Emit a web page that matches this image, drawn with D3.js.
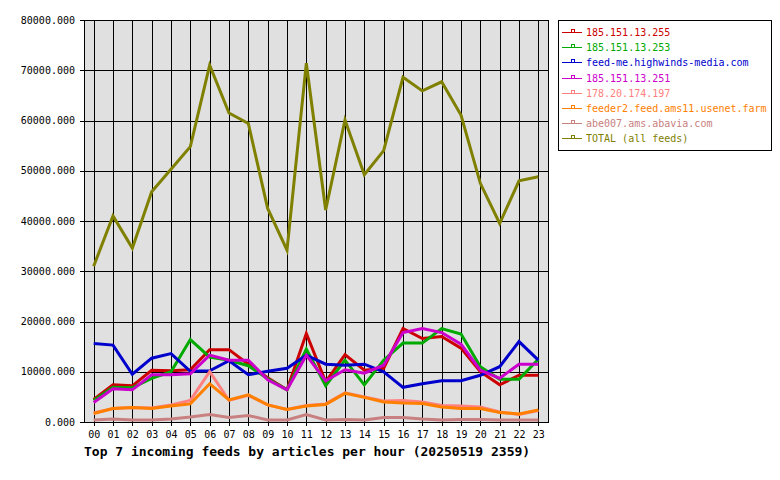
<!DOCTYPE html>
<html>
<head>
<meta charset="utf-8">
<script src="https://cdn.jsdelivr.net/npm/d3@7"></script>
<style>
body { margin: 0; background: #fff; }
text { font-family: "DejaVu Sans Mono", monospace; }
</style>
</head>
<body>
<div id="chart"></div>
<script>
var hours = ["00","01","02","03","04","05","06","07","08","09","10","11",
	"12","13","14","15","16","17","18","19","20","21","22","23"];

var feedNames = ["185.151.13.255", "185.151.13.253", "feed-me.highwinds-media.com",
	"185.151.13.251", "178.20.174.197", "feeder2.feed.ams11.usenet.farm",
	"abe007.ams.abavia.com", "TOTAL (all feeds)"];

var feedColors = ["#cc0000", "#00aa00", "#0000cc", "#cc00cc", "#ff8080", "#ff8000", "#c88080", "#808000"];

var feed255 = [4500, 7400, 7200, 10300, 10200, 10400, 14400, 14400, 11500, 8800, 6400, 17600,
	8000, 13400, 10300, 10700, 18600, 16600, 17000, 14700, 10000, 7400, 9300, 9300];
var feed253 = [4300, 6900, 6800, 8700, 10000, 16400, 12900, 12300, 11200, 8600, 6400, 14500,
	7200, 12300, 7400, 12300, 15700, 15700, 18600, 17500, 11000, 8500, 8500, 12500];
var feedHighwinds = [15600, 15300, 9500, 12700, 13600, 10100, 10200, 12200, 9400, 10100, 10700, 13300,
	11500, 11300, 11500, 10000, 6900, 7600, 8200, 8200, 9300, 11000, 16000, 12300];
var feed251 = [3900, 6600, 6400, 9400, 9400, 9600, 13300, 12300, 12300, 8400, 6400, 13300,
	8200, 10400, 9700, 11300, 17800, 18600, 17800, 15500, 10300, 8700, 11500, 11500];
var feed178 = [1800, 2700, 2900, 2800, 3400, 4300, 10000, 4300, 5300, 3400, 2500, 3300,
	3600, 5800, 5000, 4200, 4300, 4000, 3300, 3200, 3000, 2000, 1500, 2300];
var feedUsenetFarm = [1700, 2700, 2900, 2700, 3200, 3600, 7600, 4400, 5400, 3400, 2500, 3200,
	3500, 5700, 4900, 4000, 3800, 3700, 3000, 2700, 2700, 1900, 1600, 2400];
var feedAbavia = [400, 600, 400, 400, 600, 1000, 1500, 900, 1300, 400, 400, 1500,
	400, 500, 400, 900, 900, 600, 400, 500, 500, 400, 400, 400];
var feedTotal = [31000, 41000, 34600, 45800, 50300, 54800, 71000, 61500, 59400, 42500, 34200, 71400,
	42200, 60100, 49200, 54000, 68600, 65900, 67700, 61100, 47500, 39500, 48000, 48800];

var yTicks = [0, 10000, 20000, 30000, 40000, 50000, 60000, 70000, 80000];

var titleText = "Top 7 incoming feeds by articles per hour (20250519 2359)";

var series = [feed255, feed253, feedHighwinds, feed251, feed178, feedUsenetFarm, feedAbavia, feedTotal];

var svgWidth = 780, svgHeight = 480;
var margin = {top: 20, right: 232, bottom: 58, left: 84},
	width = svgWidth - margin.left - margin.right,
	height = svgHeight - margin.top - margin.bottom;

var svg = d3.select("#chart")
	.append("svg")
		.attr("width", svgWidth)
		.attr("height", svgHeight)
	.append("g")
		.attr("transform", `translate(${margin.left},${margin.top})`);

var x = d3.scalePoint()
	.domain(hours)
	.range([0, width])
	.padding(0.5);

var y = d3.scaleLinear()
	.domain([0, 80000])
	.range([height, 0]);

// plot background
svg.append("rect")
	.attr("x", 0.5).attr("y", 0.5)
	.attr("width", width).attr("height", height)
	.attr("fill", "#e0e0e0");

// grid
svg.append("g")
	.selectAll("line")
	.data(hours)
	.join("line")
		.attr("x1", d => Math.round(x(d)) + 0.5)
		.attr("x2", d => Math.round(x(d)) + 0.5)
		.attr("y1", 0).attr("y2", height)
		.attr("stroke", "#000")
		.attr("shape-rendering", "crispEdges");
svg.append("g")
	.selectAll("line")
	.data(yTicks)
	.join("line")
		.attr("x1", 0).attr("x2", width)
		.attr("y1", d => Math.round(y(d)) + 0.5)
		.attr("y2", d => Math.round(y(d)) + 0.5)
		.attr("stroke", "#000")
		.attr("shape-rendering", "crispEdges");

// axes
var yAxis = svg.append("g")
	.call(d3.axisLeft(y).tickValues(yTicks).tickSize(4).tickPadding(5)
		.tickFormat(d => d3.format(".3f")(d)));
var xAxis = svg.append("g")
	.attr("transform", `translate(0,${height})`)
	.call(d3.axisBottom(x).tickSize(4).tickPadding(5));
[yAxis, xAxis].forEach(a => {
	a.select(".domain").remove();
	a.selectAll("line").attr("stroke", "#000").attr("shape-rendering", "crispEdges");
	a.selectAll("text").attr("fill", "#000").style("font-size", "10px")
		.style("font-family", "'DejaVu Sans Mono', monospace");
});

// border
svg.append("rect")
	.attr("x", 0.5).attr("y", 0.5)
	.attr("width", width).attr("height", height)
	.attr("fill", "none")
	.attr("stroke", "#000")
	.attr("shape-rendering", "crispEdges");

// the lines
series.forEach((vals, i) => {
	svg.append("path")
		.datum(vals)
		.attr("fill", "none")
		.attr("stroke", feedColors[i])
		.attr("stroke-width", 3)
		.attr("d", d3.line()
			.x((d, j) => x(hours[j]))
			.y(d => y(d))
		);
});

// title
svg.append("text")
	.attr("x", 0)
	.attr("y", height + 34)
	.style("font-size", "13px")
	.style("font-weight", "bold")
	.attr("fill", "#000")
	.text(titleText);

// legend
var legend = d3.select("#chart svg").append("g")
	.attr("transform", "translate(558,20)");
legend.append("rect")
	.attr("x", 0.5).attr("y", 0.5)
	.attr("width", 213).attr("height", 130)
	.attr("fill", "#fff")
	.attr("stroke", "#000")
	.attr("shape-rendering", "crispEdges");
feedNames.forEach((name, i) => {
	var ly = 12 + i * 15.2;
	var row = legend.append("g").attr("transform", `translate(0,${Math.round(ly)})`);
	row.append("line")
		.attr("x1", 4).attr("x2", 24)
		.attr("y1", 0.5).attr("y2", 0.5)
		.attr("stroke", feedColors[i])
		.attr("shape-rendering", "crispEdges");
	row.append("rect")
		.attr("x", 13.5).attr("y", -2.5)
		.attr("width", 3).attr("height", 3)
		.attr("fill", "none")
		.attr("stroke", feedColors[i])
		.attr("shape-rendering", "crispEdges");
	row.append("text")
		.attr("x", 28)
		.attr("y", 4)
		.style("font-size", "10px")
		.attr("fill", feedColors[i])
		.text(name);
});
</script>
</body>
</html>
